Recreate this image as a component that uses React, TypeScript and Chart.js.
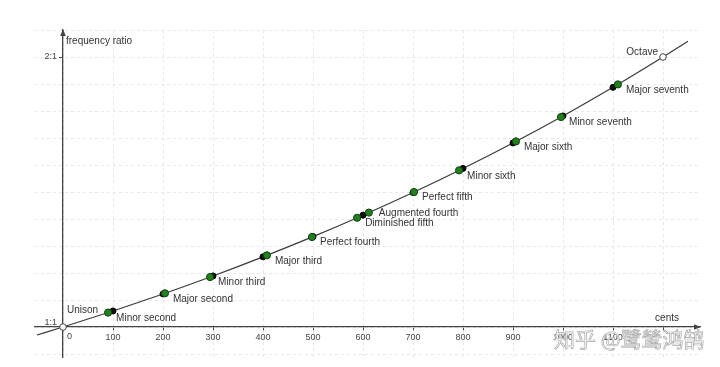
import React, { useEffect, useRef } from 'react';
import { Chart, registerables } from 'chart.js';

Chart.register(...registerables);

// Pythagorean (just) intervals — green points
const intervalNames = [
  'Minor second', 'Major second', 'Minor third', 'Major third', 'Perfect fourth',
  'Diminished fifth', 'Augmented fourth', 'Perfect fifth', 'Minor sixth', 'Major sixth',
  'Minor seventh', 'Major seventh',
];
const intervalCents = [90.2, 203.9, 294.1, 407.8, 498.0, 588.3, 611.7, 702.0, 792.2, 905.9, 996.1, 1109.8];
const intervalRatios = [1.0535, 1.125, 1.1852, 1.2656, 1.3333, 1.4047, 1.4238, 1.5, 1.5802, 1.6875, 1.7778, 1.8984];

// Equal-tempered semitones — black points
const equalCents = [100, 200, 300, 400, 500, 600, 700, 800, 900, 1000, 1100];
const equalRatios = [1.0595, 1.1225, 1.1892, 1.2599, 1.3348, 1.4142, 1.4983, 1.5874, 1.6818, 1.7818, 1.8877];

// Unison / Octave — hollow points
const endpointNames = ['Unison', 'Octave'];
const endpointCents = [0, 1200];
const endpointRatios = [1, 2];

// Curve
const curveCents = [-52, 0, 100, 200, 300, 400, 500, 600, 700, 800, 900, 1000, 1100, 1200, 1250];
const curveRatios = [0.9704, 1, 1.0595, 1.1225, 1.1892, 1.2599, 1.3348, 1.4142, 1.4983, 1.5874, 1.6818, 1.7818, 1.8877, 2, 2.0583];

// Axes
const xTickValues = [0, 100, 200, 300, 400, 500, 600, 700, 800, 900, 1000, 1100, 1200];
const xTickLabels = ['0', '100', '200', '300', '400', '500', '600', '700', '800', '900', '1000', '1100', ''];
const yTickValues = [0.9, 1.0, 1.1, 1.2, 1.3, 1.4, 1.5, 1.6, 1.7, 1.8, 1.9, 2.0, 2.1];
const yLabelValues = [1, 2];
const yLabelTexts = ['1:1', '2:1'];
const xAxisTitle = 'cents';
const yAxisTitle = 'frequency ratio';
const watermark = '知乎 @鹭鸶鸿鹄';

const FONT = '"Liberation Sans", Arial, sans-serif';
const TEXT = '#333';
const AXIS = '#444';
const GRID = '#e8e8e8';

const labelStyle: Record<string, { dx: number; dy: number; align: CanvasTextAlign }> = {
  'Augmented fourth': { dx: 10, dy: 1, align: 'left' },
  Unison: { dx: 4, dy: -16.5, align: 'left' },
  Octave: { dx: -5, dy: -5, align: 'right' },
};
const defaultLabel = { dx: 8, dy: 5.5, align: 'left' as CanvasTextAlign };
const yLabelShift = [-5, 0];

const annotate = {
  id: 'annotate',
  afterDatasetsDraw(chart: any) {
    const { ctx, chartArea } = chart;
    const x = chart.scales.x;
    const y = chart.scales.y;
    const x0 = x.getPixelForValue(0);
    const y0 = y.getPixelForValue(1);
    ctx.save();
    ctx.font = `10px ${FONT}`;
    ctx.fillStyle = TEXT;
    ctx.textBaseline = 'middle';
    const put = (name: string, c: number, r: number) => {
      const s = labelStyle[name] || defaultLabel;
      ctx.textAlign = s.align;
      ctx.fillText(name, x.getPixelForValue(c) + s.dx, y.getPixelForValue(r) + s.dy);
    };
    intervalNames.forEach((n, i) => put(n, intervalCents[i], intervalRatios[i]));
    endpointNames.forEach((n, i) => put(n, endpointCents[i], endpointRatios[i]));

    // axis titles
    ctx.textAlign = 'left';
    ctx.fillText(yAxisTitle, x0 + 3, chartArea.top + 11);
    ctx.textAlign = 'right';
    ctx.fillText(xAxisTitle, chartArea.right - 21, y0 - 9);

    // special tick labels
    ctx.font = `9px ${FONT}`;
    ctx.fillStyle = AXIS;
    ctx.textAlign = 'left';
    ctx.textBaseline = 'top';
    ctx.fillText(xTickLabels[0], x0 + 4, y0 + 5);
    ctx.textAlign = 'right';
    ctx.textBaseline = 'middle';
    yLabelValues.forEach((v, i) => {
      ctx.fillText(yLabelTexts[i], x0 - 6, y.getPixelForValue(v) + yLabelShift[i]);
    });

    // arrow heads
    ctx.fillStyle = AXIS;
    ctx.beginPath();
    ctx.moveTo(x0, chartArea.top - 1);
    ctx.lineTo(x0 - 2.8, chartArea.top + 6);
    ctx.lineTo(x0 + 2.8, chartArea.top + 6);
    ctx.closePath();
    ctx.fill();
    ctx.beginPath();
    ctx.moveTo(chartArea.right + 1, y0);
    ctx.lineTo(chartArea.right - 6, y0 - 2.8);
    ctx.lineTo(chartArea.right - 6, y0 + 2.8);
    ctx.closePath();
    ctx.fill();
    ctx.restore();
  },
  afterDraw(chart: any) {
    const { ctx } = chart;
    ctx.save();
    ctx.font = `21px "Noto Sans CJK SC", sans-serif`;
    ctx.textAlign = 'left';
    ctx.textBaseline = 'middle';
    ctx.fillStyle = '#ffffff';
    ctx.strokeStyle = '#a8a8a8';
    ctx.lineWidth = 0.7;
    ctx.fillText(watermark, 554, 339);
    ctx.strokeText(watermark, 554, 339);
    ctx.restore();
  },
};

export default function App() {
  const ref = useRef<HTMLCanvasElement | null>(null);
  useEffect(() => {
    document.body.style.margin = '0';
    const canvas = ref.current!;
    const toXY = (xs: number[], ys: number[]) => xs.map((v, i) => ({ x: v, y: ys[i] }));
    const chart = new Chart(canvas, {
      type: 'scatter',
      data: {
        datasets: [
          {
            label: 'Pythagorean',
            data: toXY(intervalCents, intervalRatios),
            backgroundColor: '#23801f',
            borderColor: '#0f400f',
            borderWidth: 1,
            pointRadius: 3.6,
          },
          {
            label: 'Equal',
            data: toXY(equalCents, equalRatios),
            backgroundColor: '#111',
            borderColor: '#000',
            borderWidth: 1,
            pointRadius: 3,
          },
          {
            label: 'Endpoints',
            data: toXY(endpointCents, endpointRatios),
            backgroundColor: '#fff',
            borderColor: '#444',
            borderWidth: 1,
            pointRadius: 3.3,
          },
          {
            type: 'line',
            label: 'Curve',
            data: toXY(curveCents, curveRatios),
            borderColor: '#3a3a3a',
            borderWidth: 1.2,
            pointRadius: 0,
            cubicInterpolationMode: 'monotone',
            fill: false,
          } as any,
        ],
      },
      options: {
        animation: false,
        responsive: false,
        devicePixelRatio: 1,
        layout: { padding: { left: 35, right: 20, top: 30, bottom: 10 } },
        plugins: { legend: { display: false }, tooltip: { enabled: false } },
        scales: {
          x: {
            type: 'linear',
            min: -56,
            max: 1274,
            position: { y: 1 } as any,
            afterBuildTicks: (s: any) => {
              s.ticks = xTickValues.map((v) => ({ value: v }));
            },
            ticks: {
              autoSkip: false,
              maxRotation: 0,
              padding: 2,
              color: AXIS,
              font: { size: 9, family: FONT },
              callback: (v: any) => {
                const i = xTickValues.indexOf(Number(v));
                return i <= 0 ? '' : xTickLabels[i];
              },
            },
            grid: {
              color: GRID,
              lineWidth: 1,
              tickLength: 3,
              tickColor: AXIS,
            },
            border: { display: true, color: AXIS, width: 1.3, dash: [3, 3] },
          },
          y: {
            type: 'linear',
            min: 0.889,
            max: 2.1,
            position: { x: 0 } as any,
            afterBuildTicks: (s: any) => {
              s.ticks = yTickValues.map((v) => ({ value: v }));
            },
            ticks: {
              autoSkip: false,
              padding: 3,
              color: AXIS,
              font: { size: 9, family: FONT },
              callback: () => '',
            },
            grid: {
              color: GRID,
              lineWidth: 1,
              tickLength: 3,
              tickColor: (c: any) =>
                c.tick && Math.abs(c.tick.value - 2) < 1e-6 ? AXIS : 'rgba(0,0,0,0)',
            },
            border: { display: true, color: AXIS, width: 1.3, dash: [3, 3] },
          },
        },
      },
      plugins: [annotate],
    });
    return () => chart.destroy();
  }, []);
  return (
    <div style={{ width: 720, height: 367, background: '#fff' }}>
      <canvas ref={ref} width={720} height={367} />
    </div>
  );
}
